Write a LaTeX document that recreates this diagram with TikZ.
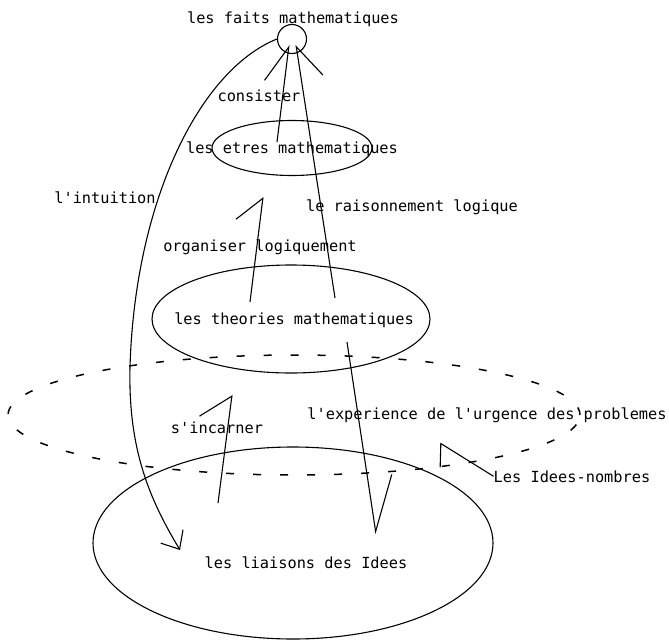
\documentclass[tikz,border=0pt]{standalone}
\usepackage{fontspec}
\setmonofont{DejaVu Sans Mono}
\usetikzlibrary{arrows.meta,shapes.geometric}
\begin{document}
\begin{tikzpicture}[x=1pt,y=-1pt,
  lab/.style={font=\ttfamily\fontsize{15.3}{18}\selectfont, inner sep=0pt, anchor=base},
  ln/.style={line width=1.1pt},
  ell/.style={draw, ellipse, inner sep=0pt, ln},
  dashell/.style={draw, ellipse, inner sep=0pt, line width=1.5pt, dash pattern=on 8pt off 19pt},
]
\useasboundingbox (0,0) rectangle (669,642);

% shapes
\node[draw, circle, minimum size=29pt, inner sep=0pt, ln] (fc) at (292,39) {};
\node[ell, minimum width=160pt, minimum height=55pt] (etres) at (292,148) {};
\node[ell, minimum width=278pt, minimum height=108pt] (theo) at (291,319) {};
\node[dashell, minimum width=572pt, minimum height=120pt] (urg) at (294,415) {};
\node[ell, minimum width=400pt, minimum height=192pt] (liai) at (293,543) {};

% texts
\node[lab] (tfaits) at (293,24) {les faits mathematiques};
\node[lab] (tcons) at (259,101) {consister};
\node[lab] (tetres) at (292,153) {les etres mathematiques};
\node[lab] (tint) at (105,203) {l'intuition};
\node[lab] (trais) at (412,211) {le raisonnement logique};
\node[lab] (torg) at (260,251) {organiser logiquement};
\node[lab] (ttheo) at (294,324) {les theories mathematiques};
\node[lab] (tinc) at (217,433) {s'incarner};
\node[lab] (texp) at (487,419) {l'experience de l'urgence des problemes};
\node[lab] (tidn) at (572,482) {Les Idees-nombres};
\node[lab] (tliai) at (306,568) {les liaisons des Idees};

% connector end points
\coordinate (c1s) at (277,142);
\coordinate (c1t) at (289,45);
\coordinate (c2s) at (335,298);
\coordinate (c2t) at (296,45);
\coordinate (c3s) at (250,302);
\coordinate (c3t) at (263,197);
\coordinate (c4s) at (218,503);
\coordinate (c4t) at (232,395);
\coordinate (c5s) at (347,342);
\coordinate (c5t) at (376,534);
\coordinate (c6t) at (440,443);
\coordinate (c7t) at (180,550);

% connectors
\draw[ln, -{Straight Barb[harpoon, length=36pt, width=40pt]}] (c1s) -- (c1t);
\draw[ln, -{Straight Barb[harpoon, swap, length=32pt, width=44pt]}] (c2s) -- (c2t);
\draw[ln, -{Straight Barb[harpoon, length=24pt, width=48pt]}] (c3s) -- (c3t);
\draw[ln, -{Straight Barb[harpoon, length=24pt, width=59pt]}] (c4s) -- (c4t);
\draw[ln, -{Straight Barb[harpoon, length=54pt, width=49pt]}] (c5s) -- (c5t);
\draw[ln, -{Straight Barb[harpoon, length=12pt, width=41pt]}] (tidn.west) -- (c6t);
\draw[ln, -{Straight Barb[length=15pt, width=26pt]}] (fc.west) .. controls (200,70) and (135,200) .. (130,367) .. controls (128,450) and (150,500) .. (c7t);
\end{tikzpicture}
\end{document}
